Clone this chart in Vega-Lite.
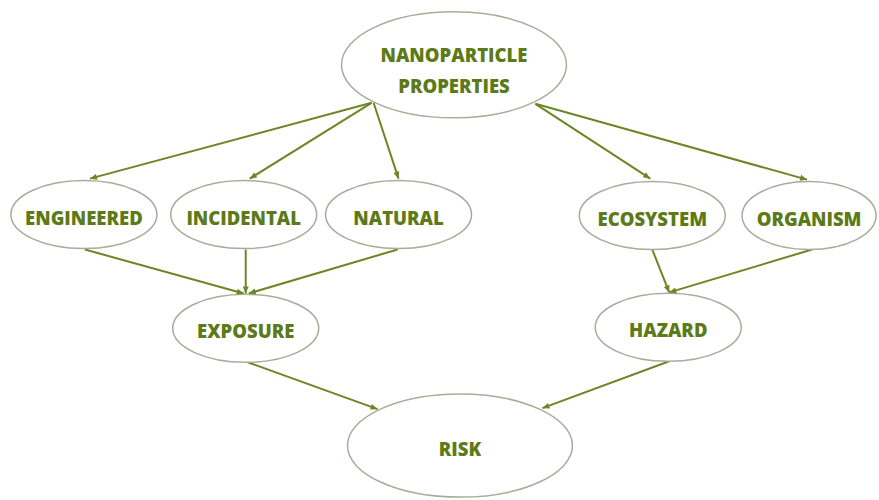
{
  "$schema": "https://vega.github.io/schema/vega-lite/v6.json",
  "width": 879,
  "height": 500,
  "padding": 0,
  "autosize": {"type": "fit", "contains": "padding"},
  "background": "white",
  "config": {"view": {"stroke": null}},
  "datasets": {
    "nodes": [
      {"name": "NANO", "label": "NANOPARTICLE\nPROPERTIES", "x": 454.5, "y": 65},
      {"name": "ENGINEERED", "label": "ENGINEERED", "x": 84, "y": 215},
      {"name": "INCIDENTAL", "label": "INCIDENTAL", "x": 244, "y": 215},
      {"name": "NATURAL", "label": "NATURAL", "x": 399, "y": 215},
      {"name": "ECOSYSTEM", "label": "ECOSYSTEM", "x": 653, "y": 216},
      {"name": "ORGANISM", "label": "ORGANISM", "x": 810, "y": 216},
      {"name": "EXPOSURE", "label": "EXPOSURE", "x": 246, "y": 329},
      {"name": "HAZARD", "label": "HAZARD", "x": 669, "y": 328},
      {"name": "RISK", "label": "RISK", "x": 460.5, "y": 446.5}
    ],
    "edges": [
      {"from": "NANO", "to": "ENGINEERED", "sx": 372, "sy": 103, "tx": 90, "ty": 179},
      {"from": "NANO", "to": "INCIDENTAL", "sx": 372, "sy": 103, "tx": 250, "ty": 179},
      {"from": "NANO", "to": "NATURAL", "sx": 374, "sy": 103, "tx": 399, "ty": 179},
      {"from": "NANO", "to": "ECOSYSTEM", "sx": 536, "sy": 104, "tx": 651, "ty": 179},
      {"from": "NANO", "to": "ORGANISM", "sx": 536, "sy": 104, "tx": 808, "ty": 180},
      {"from": "ENGINEERED", "to": "EXPOSURE", "sx": 85, "sy": 250, "tx": 244, "ty": 294},
      {"from": "INCIDENTAL", "to": "EXPOSURE", "sx": 246, "sy": 250, "tx": 246, "ty": 294},
      {"from": "NATURAL", "to": "EXPOSURE", "sx": 398, "sy": 250, "tx": 249, "ty": 294},
      {"from": "ECOSYSTEM", "to": "HAZARD", "sx": 653, "sy": 250, "tx": 670, "ty": 293},
      {"from": "ORGANISM", "to": "HAZARD", "sx": 813, "sy": 250, "tx": 670, "ty": 293},
      {"from": "EXPOSURE", "to": "RISK", "sx": 248, "sy": 363, "tx": 378, "ty": 410},
      {"from": "HAZARD", "to": "RISK", "sx": 670, "sy": 362, "tx": 543, "ty": 409}
    ]
  },
  "layer": [
    {
      "data": {"name": "edges"},
      "mark": {"type": "rule", "color": "#6c8624", "strokeWidth": 2},
      "encoding": {
        "x": {"field": "sx", "type": "quantitative", "scale": {"domain": [0, 879], "nice": false, "zero": false}, "axis": null},
        "y": {"field": "sy", "type": "quantitative", "scale": {"domain": [0, 500], "nice": false, "zero": false, "reverse": true}, "axis": null},
        "x2": {"field": "tx"},
        "y2": {"field": "ty"}
      }
    },
    {
      "data": {"name": "nodes"},
      "transform": [{"filter": "datum.name === 'NANO'"}],
      "mark": {"type": "point", "shape": "M -112.5 0 A 112.5 53 0 1 1 112.5 0 A 112.5 53 0 1 1 -112.5 0 Z", "size": 4, "filled": true, "fill": "white", "stroke": "#a9ab9b", "strokeWidth": 1.5, "opacity": 1, "fillOpacity": 1, "strokeOpacity": 1},
      "encoding": {
        "x": {"field": "x", "type": "quantitative", "scale": {"domain": [0, 879], "nice": false, "zero": false}, "axis": null},
        "y": {"field": "y", "type": "quantitative", "scale": {"domain": [0, 500], "nice": false, "zero": false, "reverse": true}, "axis": null}
      }
    },
    {
      "data": {"name": "nodes"},
      "transform": [{"filter": "datum.name === 'RISK'"}],
      "mark": {"type": "point", "shape": "M -112.5 0 A 112.5 51.5 0 1 1 112.5 0 A 112.5 51.5 0 1 1 -112.5 0 Z", "size": 4, "filled": true, "fill": "white", "stroke": "#a9ab9b", "strokeWidth": 1.5, "opacity": 1, "fillOpacity": 1, "strokeOpacity": 1},
      "encoding": {
        "x": {"field": "x", "type": "quantitative", "scale": {"domain": [0, 879], "nice": false, "zero": false}, "axis": null},
        "y": {"field": "y", "type": "quantitative", "scale": {"domain": [0, 500], "nice": false, "zero": false, "reverse": true}, "axis": null}
      }
    },
    {
      "data": {"name": "nodes"},
      "transform": [{"filter": "datum.name === 'ORGANISM'"}],
      "mark": {"type": "point", "shape": "M -67 0 A 67 34 0 1 1 67 0 A 67 34 0 1 1 -67 0 Z", "size": 4, "filled": true, "fill": "white", "stroke": "#a9ab9b", "strokeWidth": 1.5, "opacity": 1, "fillOpacity": 1, "strokeOpacity": 1},
      "encoding": {
        "x": {"field": "x", "type": "quantitative", "scale": {"domain": [0, 879], "nice": false, "zero": false}, "axis": null},
        "y": {"field": "y", "type": "quantitative", "scale": {"domain": [0, 500], "nice": false, "zero": false, "reverse": true}, "axis": null}
      }
    },
    {
      "data": {"name": "nodes"},
      "transform": [{"filter": "datum.name !== 'NANO' && datum.name !== 'RISK' && datum.name !== 'ORGANISM'"}],
      "mark": {"type": "point", "shape": "M -73 0 A 73 34 0 1 1 73 0 A 73 34 0 1 1 -73 0 Z", "size": 4, "filled": true, "fill": "white", "stroke": "#a9ab9b", "strokeWidth": 1.5, "opacity": 1, "fillOpacity": 1, "strokeOpacity": 1},
      "encoding": {
        "x": {"field": "x", "type": "quantitative", "scale": {"domain": [0, 879], "nice": false, "zero": false}, "axis": null},
        "y": {"field": "y", "type": "quantitative", "scale": {"domain": [0, 500], "nice": false, "zero": false, "reverse": true}, "axis": null}
      }
    },
    {
      "data": {"name": "edges"},
      "transform": [{"calculate": "atan2(datum.tx - datum.sx, datum.sy - datum.ty) * 180 / PI", "as": "heading"}],
      "mark": {"type": "point", "shape": "M 0 0 L -3 7 L 3 7 Z", "size": 4, "filled": true, "color": "#6c8624", "opacity": 1},
      "encoding": {
        "x": {"field": "tx", "type": "quantitative", "scale": {"domain": [0, 879], "nice": false, "zero": false}, "axis": null},
        "y": {"field": "ty", "type": "quantitative", "scale": {"domain": [0, 500], "nice": false, "zero": false, "reverse": true}, "axis": null},
        "angle": {"field": "heading", "type": "quantitative", "scale": null}
      }
    },
    {
      "data": {"name": "nodes"},
      "transform": [{"filter": "datum.name !== 'NANO'"}],
      "mark": {"type": "text", "font": "Open Sans", "fontWeight": 800, "fontSize": 18.5, "color": "#5d7a18", "align": "center", "baseline": "middle", "dy": 4},
      "encoding": {
        "x": {"field": "x", "type": "quantitative", "scale": {"domain": [0, 879], "nice": false, "zero": false}, "axis": null},
        "y": {"field": "y", "type": "quantitative", "scale": {"domain": [0, 500], "nice": false, "zero": false, "reverse": true}, "axis": null},
        "text": {"field": "label"}
      }
    },
    {
      "data": {"name": "nodes"},
      "transform": [{"filter": "datum.name === 'NANO'"}],
      "mark": {"type": "text", "font": "Open Sans", "fontWeight": 800, "fontSize": 18.5, "color": "#5d7a18", "align": "center", "baseline": "middle", "dy": -9, "lineBreak": "\n", "lineHeight": 31},
      "encoding": {
        "x": {"field": "x", "type": "quantitative", "scale": {"domain": [0, 879], "nice": false, "zero": false}, "axis": null},
        "y": {"field": "y", "type": "quantitative", "scale": {"domain": [0, 500], "nice": false, "zero": false, "reverse": true}, "axis": null},
        "text": {"field": "label"}
      }
    }
  ]
}
